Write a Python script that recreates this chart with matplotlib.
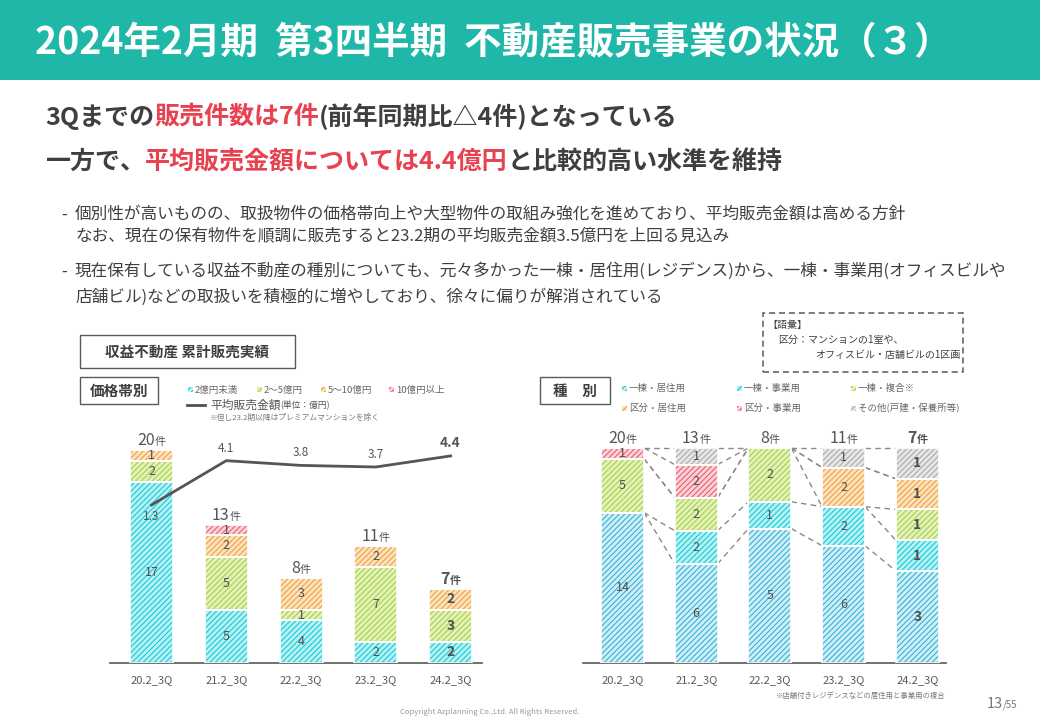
import matplotlib
matplotlib.use('Agg')
import matplotlib.pyplot as plt
from matplotlib.patches import Rectangle
from matplotlib.lines import Line2D
import numpy as np

plt.rcParams['font.family'] = ['Noto Sans CJK JP', 'DejaVu Sans']
plt.rcParams['hatch.linewidth'] = 0.75

# ---------------- data ----------------
periods = ['20.2_3Q', '21.2_3Q', '22.2_3Q', '23.2_3Q', '24.2_3Q']

price_labels = ['2億円未満', '2～5億円', '5～10億円', '10億円以上']
price_under2 = [17, 5, 4, 2, 2]
price_2to5 = [2, 5, 1, 7, 3]
price_5to10 = [1, 2, 3, 2, 2]
price_over10 = [0, 1, 0, 0, 0]
avg_price = [1.3, 4.1, 3.8, 3.7, 4.4]

type_labels = ['一棟・居住用', '一棟・事業用', '一棟・複合※',
               '区分・居住用', '区分・事業用', 'その他(戸建・保養所等)']
bldg_res = [14, 6, 5, 6, 3]
bldg_biz = [0, 2, 1, 2, 1]
bldg_mix = [5, 2, 2, 0, 1]
unit_res = [0, 0, 0, 2, 1]
unit_biz = [1, 2, 0, 0, 0]
other = [0, 1, 0, 1, 1]

# ---------------- styles ----------------
W, H = 1040, 720
DARK = '#3f3f3f'
GRAY = '#595959'
RED = '#e8414f'
TEAL = '#1fb8a8'
HATCH = '//////'

CYAN = ('#b3f3f6', '#17c4d3')
BLUE = ('#cdeff8', '#33acd4')
GREEN = ('#e3f2b6', '#a3cd4c')
ORANGE = ('#fce2bd', '#ee9e3c')
PINK = ('#fcd2d7', '#e8596b')
GREY = ('#e6e6e6', '#a8a8a8')
price_styles = [CYAN, GREEN, ORANGE, PINK]
type_styles = [BLUE, CYAN, GREEN, ORANGE, PINK, GREY]

fig = plt.figure(figsize=(10.4, 7.2), dpi=100)
fig.patch.set_facecolor('white')
fig.canvas.draw()
R = fig.canvas.get_renderer()


def fx(x):
    return x / W


def fy(y):
    return 1 - y / H


def seq(x, y, parts, va='center', **kw):
    """draw text parts left to right; x,y in px from top-left"""
    for s, opts in parts:
        d = dict(kw)
        d.update(opts)
        t = fig.text(fx(x), fy(y), s, ha='left', va=va, **d)
        bb = t.get_window_extent(R)
        x = bb.x1
    return x


def centered_seq(xc, yb, parts):
    """parts centered at display x xc, baseline display y yb"""
    ts, ws = [], []
    for s, opts in parts:
        t = fig.text(0, 0, s, ha='left', va='baseline', **opts)
        ws.append(t.get_window_extent(R).width)
        ts.append(t)
    x = xc - sum(ws) / 2
    for t, w in zip(ts, ws):
        t.set_position((x / W, yb / H))
        x += w


def box(x0, y0, x1, y1, ls='-', lw=1.0, ec=GRAY):
    fig.patches.append(Rectangle((fx(x0), fy(y1)), fx(x1) - fx(x0), fy(y0) - fy(y1),
                                 transform=fig.transFigure, fill=False, ec=ec,
                                 lw=lw, ls=ls))


def swatch(x, y, style, s=6):
    fc, hc = style
    fig.patches.append(Rectangle((fx(x), fy(y + s / 2)), s / W, s / H,
                                 transform=fig.transFigure, fc=fc, ec=hc,
                                 hatch=HATCH, lw=0))


# ---------------- header ----------------
fig.patches.append(Rectangle((0, fy(80)), 1, 80 / H, transform=fig.transFigure,
                             fc=TEAL, ec='none'))
fig.text(fx(35), fy(43), '2024年2月期  第3四半期  不動産販売事業の状況（３）',
         color='white', fontsize=27, fontweight='bold', va='center', ha='left')

seq(45, 117, [('3Qまでの', {}), ('販売件数は7件', {'color': RED}),
              ('(前年同期比△4件)となっている', {})],
    fontsize=18, fontweight='bold', color=DARK)
seq(45, 162, [('一方で、', {}), ('平均販売金額については4.4億円', {'color': RED}),
              ('と比較的高い水準を維持', {})],
    fontsize=18, fontweight='bold', color=DARK)

bul = dict(fontsize=12, color='#404040', va='center', ha='left')
fig.text(fx(61), fy(214), '-', **bul)
fig.text(fx(75), fy(214), '個別性が高いものの、取扱物件の価格帯向上や大型物件の取組み強化を進めており、平均販売金額は高める方針', **bul)
fig.text(fx(75), fy(236), 'なお、現在の保有物件を順調に販売すると23.2期の平均販売金額3.5億円を上回る見込み', **bul)
fig.text(fx(61), fy(271), '-', **bul)
fig.text(fx(75), fy(271), '現在保有している収益不動産の種別についても、元々多かった一棟・居住用(レジデンス)から、一棟・事業用(オフィスビルや', **bul)
fig.text(fx(75), fy(297), '店舗ビル)などの取扱いを積極的に増やしており、徐々に偏りが解消されている', **bul)

# glossary box
box(763, 313, 963, 372, ls=(0, (4, 2.5)), lw=1.1)
gl = dict(fontsize=7.2, color=DARK, va='center', ha='left')
fig.text(fx(767), fy(325), '【語彙】', **gl)
fig.text(fx(778), fy(340), '区分：マンションの1室や、', **gl)
fig.text(fx(815), fy(355), 'オフィスビル・店舗ビルの1区画', **gl)

# section boxes
box(80, 335, 295, 368)
fig.text(fx(187.5), fy(351.5), '収益不動産 累計販売実績', fontsize=10.5, fontweight='bold',
         color=DARK, ha='center', va='center')
box(80, 377, 158, 404)
fig.text(fx(119), fy(390.5), '価格帯別', fontsize=10.5, fontweight='bold',
         color=DARK, ha='center', va='center')
box(540, 377, 610, 404)
fig.text(fx(575), fy(390.5), '種　別', fontsize=10.5, fontweight='bold',
         color=DARK, ha='center', va='center')

# left legend
lg = dict(fontsize=6.8, color='#666666', va='center', ha='left')
for (xs, lab, st) in zip([188, 257, 321, 389], price_labels, price_styles):
    swatch(xs, 390, st, 5)
    fig.text(fx(xs + 7), fy(390), lab, **lg)
fig.lines.append(Line2D([fx(187), fx(205)], [fy(405), fy(405)], transform=fig.transFigure,
                        color='#505050', lw=2))
seq(210, 405, [('平均販売金額', {'fontsize': 8.5}), ('(単位：億円)', {'fontsize': 6.3})],
    color='#555555')
fig.text(fx(210), fy(418), '※但し23.2期以降はプレミアムマンションを除く', fontsize=5.6,
         color='#777777', va='center', ha='left')

# right legend
for i, (lab, st) in enumerate(zip(type_labels, type_styles)):
    xs = [622, 737, 851][i % 3]
    ys = [388, 408][i // 3]
    swatch(xs, ys, st, 5)
    fig.text(fx(xs + 7), fy(ys), lab, **lg)


def hbar(ax, x, h, b, style, width):
    fc, hc = style
    ax.bar(x, h, width, bottom=b, color=fc, edgecolor=hc, hatch=HATCH, linewidth=0,
           zorder=2)
    ax.bar(x, h, width, bottom=b, fill=False, edgecolor='white', linewidth=1.2, zorder=3)


def style_axis(ax):
    for s in ['top', 'right', 'left']:
        ax.spines[s].set_visible(False)
    ax.spines['bottom'].set_color(GRAY)
    ax.spines['bottom'].set_linewidth(1.2)
    ax.set_yticks([])
    ax.tick_params(axis='x', length=0, pad=9, labelsize=8, labelcolor=GRAY)
    ax.patch.set_alpha(0)


x = np.arange(len(periods))

# ---------------- left chart ----------------
axL = fig.add_axes([fx(110), fy(663), (482 - 110) / W, 233 / H])
axL.set_xlim(-0.555, 4.42)
axL.set_ylim(0, 21.9)
style_axis(axL)
axL.set_xticks(x, periods)
bw = 0.575
bottom = np.zeros(len(x))
for vals, st in zip([price_under2, price_2to5, price_5to10, price_over10], price_styles):
    v = np.array(vals, dtype=float)
    hbar(axL, x, v, bottom, st, bw)
    for xi, vi, bi in zip(x, v, bottom):
        if vi > 0:
            last = xi == x[-1]
            axL.text(xi, bi + vi / 2, f'{int(vi)}', ha='center', va='center',
                     fontsize=10 if last else 9, color='#505050',
                     fontweight='bold' if last else 'normal', zorder=5)
    bottom += v
totals_L = bottom.copy()
fig.canvas.draw()
for xi, tot in zip(x, totals_L):
    dx, dy = axL.transData.transform((xi, tot))
    last = xi == x[-1]
    fw = 'bold' if last else 'normal'
    centered_seq(dx, dy + 5, [(f'{int(tot)}', {'fontsize': 11.5, 'color': '#555555', 'fontweight': fw}),
                             ('件', {'fontsize': 8, 'color': '#555555', 'fontweight': fw})])

axL2 = axL.twinx()
axL2.set_ylim(-8.70, 6.04)
axL2.set_xlim(-0.555, 4.42)
axL2.axis('off')
axL2.plot(x, avg_price, color='#555555', lw=2, zorder=6)
for xi, v in zip(x, avg_price):
    if xi == 0:
        axL2.annotate(f'{v}', (xi, v), xytext=(0, -12), textcoords='offset pixels',
                      ha='center', va='center', fontsize=8.5, color='#555555')
    else:
        last = xi == x[-1]
        axL2.annotate(f'{v}', (xi, v), xytext=(0, 6), textcoords='offset pixels',
                      ha='center', va='bottom', fontsize=10 if last else 8.5,
                      fontweight='bold' if last else 'normal', color='#555555')

# ---------------- right chart ----------------
axR = fig.add_axes([fx(583), fy(663), (946 - 583) / W, 233 / H])
axR.set_xlim(-0.536, 4.39)
axR.set_ylim(0, 233 / 215)
style_axis(axR)
axR.set_xticks(x, periods)
series = [bldg_res, bldg_biz, bldg_mix, unit_res, unit_biz, other]
counts = np.array(series, dtype=float)
totals_R = counts.sum(axis=0)
frac = counts / totals_R
cum = np.cumsum(frac, axis=0)
bwr = 0.583
bottom = np.zeros(len(x))
for k, st in enumerate(type_styles):
    v = frac[k]
    hbar(axR, x, v, bottom, st, bwr)
    for xi, fv, cv, bi in zip(x, v, counts[k], bottom):
        if cv > 0:
            last = xi == x[-1]
            axR.text(xi, bi + fv / 2, f'{int(cv)}', ha='center', va='center',
                     fontsize=10 if last else 9, color='#505050',
                     fontweight='bold' if last else 'normal', zorder=5)
    bottom += v
for i in range(len(x) - 1):
    for k in range(len(series)):
        axR.plot([x[i] + bwr / 2, x[i + 1] - bwr / 2], [cum[k, i], cum[k, i + 1]],
                 color='#8a8a8a', lw=1, ls=(0, (4, 3)), zorder=1)
fig.canvas.draw()
for xi, tot in zip(x, totals_R):
    dx, dy = axR.transData.transform((xi, 1.0))
    last = xi == x[-1]
    fw = 'bold' if last else 'normal'
    centered_seq(dx, dy + 5, [(f'{int(tot)}', {'fontsize': 11.5, 'color': '#555555', 'fontweight': fw}),
                             ('件', {'fontsize': 8, 'color': '#555555', 'fontweight': fw})])

fig.text(fx(946), fy(696), '※店舗付きレジデンスなどの居住用と事業用の複合', fontsize=5.3,
         color='#777777', ha='right', va='center')

# footer
fig.text(fx(490), fy(712), 'Copyright Azplanning Co.,Ltd. All Rights Reserved.', fontsize=5.5,
         color='#999999', ha='center', va='center')
seq(987, 708, [('13', {'fontsize': 10.5}), ('/55', {'fontsize': 7})], va='baseline',
    color='#777777')

fig.savefig('out.png', dpi=100)
